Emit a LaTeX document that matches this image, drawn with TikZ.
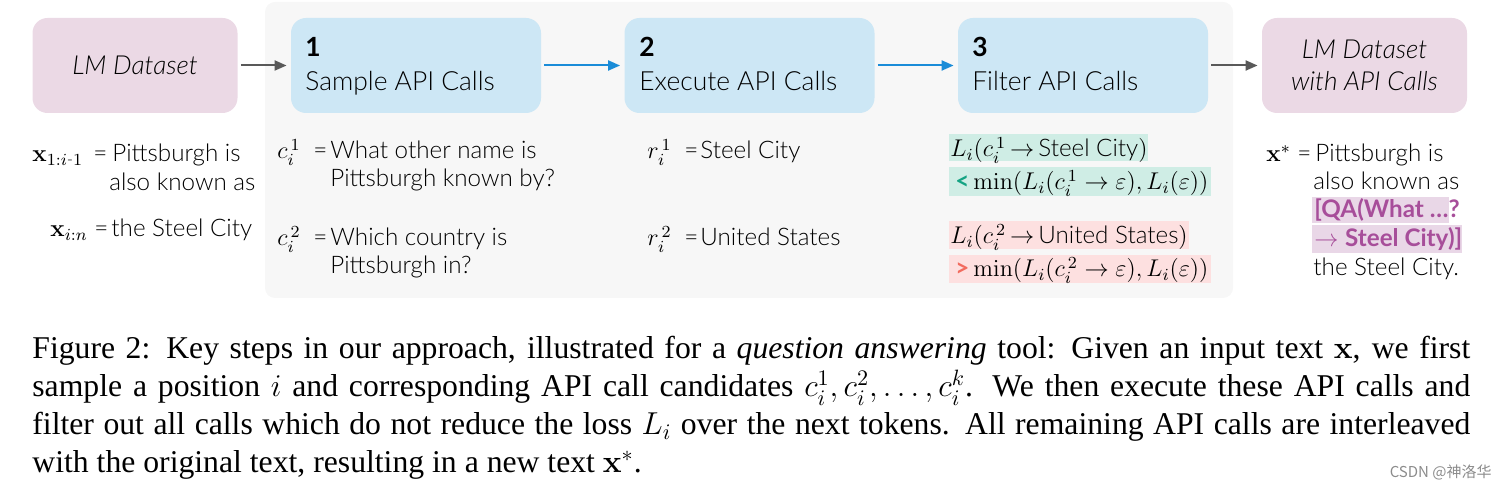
\RequirePackage{fix-cm}
\documentclass[tikz,border=0pt]{standalone}
\usepackage{amsmath}
\usepackage[no-math]{fontspec}
\setmainfont{Liberation Serif}
\IfFontExistsTF{Lato Light}{\newfontfamily\rob{Lato Light}[ItalicFont={Lato Light Italic},BoldFont={Lato Bold}]}{\newfontfamily\rob{Lato}}
\newfontfamily\cjk{Noto Sans CJK SC}
\usetikzlibrary{arrows.meta}
\newcommand{\tightrel}{\thickmuskip=3mu\relax}
\definecolor{pinkbox}{HTML}{EBD9E5}
\definecolor{bluebox}{HTML}{CDE7F5}
\definecolor{panelc}{HTML}{F7F7F7}
\definecolor{greyarrow}{HTML}{595959}
\definecolor{bluearrow}{HTML}{1A8CD8}
\definecolor{greenhl}{HTML}{CFEDE5}
\definecolor{greentxt}{HTML}{14A383}
\definecolor{redhl}{HTML}{FDE0E0}
\definecolor{redtxt}{HTML}{F26B5E}
\definecolor{qahl}{HTML}{E9D7E7}
\definecolor{qatxt}{HTML}{A74E9A}
\begin{document}
\begin{tikzpicture}[x=0.5pt,y=-0.5pt,
  boxbase/.style={rounded corners=7.5pt, minimum height=47.5pt, inner sep=0pt},
  pinkstep/.style={boxbase, fill=pinkbox, minimum width=102.5pt, font=\rob\itshape\fontsize{13.1}{16}\selectfont, align=center},
  bluestep/.style={boxbase, fill=bluebox, minimum width=125pt},
  lbl/.style={inner sep=0pt, anchor=base west, font=\rob\fontsize{13.2}{16}\selectfont},
  lblnum/.style={inner sep=0pt, anchor=base west, font=\rob\bfseries\fontsize{13.2}{16}\selectfont},
  txt/.style={inner sep=0pt, anchor=base west, font=\rob\fontsize{12.1}{14.5}\selectfont},
  formula/.style={txt, font=\rob\fontsize{12.1}{14.5}\selectfont\tightrel},
  garrow/.style={draw=greyarrow, line width=1pt, -{Triangle[length=6pt,width=5pt]}, shorten <=1.5pt, shorten >=2pt},
  barrow/.style={draw=bluearrow, line width=1pt, -{Triangle[length=6pt,width=5pt]}, shorten <=1.5pt, shorten >=2pt},
]
\useasboundingbox (0,0) rectangle (1506,491);
% panel
\node[fill=panelc, rounded corners=5pt, minimum width=484pt, minimum height=148pt, inner sep=0pt] (panel) at (749,150) {};
% boxes
\node[pinkstep] (lm) at (135,65.5) {LM Dataset};
\node[bluestep] (s1) at (416,65.5) {};
\node[bluestep] (s2) at (749.5,65.5) {};
\node[bluestep] (s3) at (1083,65.5) {};
\node[pinkstep] (lm2) at (1364.5,65.5) {LM Dataset\\with API Calls};
\node[lblnum] (n1) at (305,57) {1};
\node[lbl] (t1) at (305,91) {Sample API Calls};
\node[lblnum] (n2) at (639,57) {2};
\node[lbl] (t2) at (639,91) {Execute API Calls};
\node[lblnum] (n3) at (972,57) {3};
\node[lbl] (t3) at (972,91) {Filter API Calls};
% arrows
\draw[garrow] (lm) -- (s1);
\draw[barrow] (s1) -- (s2);
\draw[barrow] (s2) -- (s3);
\draw[garrow] (s3) -- (lm2);
% left column
\node[txt] (xa) at (32,162) {$\mathbf{x}_{1:i\text{-}1}$};
\node[txt] (eqa) at (93,162) {=};
\node[txt] (ta) at (112,162) {Pittsburgh is};
\node[txt] (ta2) at (109,191) {also known as};
\node[txt] (xb) at (50,237) {$\mathbf{x}_{i:n}$};
\node[txt] (eqb) at (94,237) {=};
\node[txt] (tb) at (111,237) {the Steel City};
% sample column
\node[txt] (c1) at (277,159) {$c_i^{\,1}$};
\node[txt] (eqc1) at (313,159) {=};
\node[txt] (tc1) at (330,159) {What other name is};
\node[txt] (tc1b) at (330,187) {Pittsburgh known by?};
\node[txt] (c2) at (277,246) {$c_i^{\,2}$};
\node[txt] (eqc2) at (313,246) {=};
\node[txt] (tc2) at (330,246) {Which country is};
\node[txt] (tc2b) at (330,274) {Pittsburgh in?};
% execute column
\node[txt] (r1) at (647,159) {$r_i^{\,1}$};
\node[txt] (eqr1) at (684,159) {=};
\node[txt] (tr1) at (700,159) {Steel City};
\node[txt] (r2) at (647,246) {$r_i^{\,2}$};
\node[txt] (eqr2) at (684,246) {=};
\node[txt] (tr2) at (700,246) {United States};
% filter column
\fill[greenhl] (949,134) rectangle (1148,161);
\fill[greenhl] (949,167) rectangle (1211,196);
\fill[redhl] (949,221) rectangle (1189,249);
\fill[redhl] (949,255) rectangle (1211,283);
\node[formula] (f1) at (950,157) {$L_i(c_i^{\,1}\rightarrow\mbox{\rob Steel City})$};
\node[txt] (f2) at (955,190) {{\bfseries\color{greentxt}<}\,$\min(L_i(c_i^{\,1}\rightarrow\varepsilon),L_i(\varepsilon))$};
\node[formula] (f3) at (950,244) {$L_i(c_i^{\,2}\rightarrow\mbox{\rob United States})$};
\node[txt] (f4) at (955,277) {{\bfseries\color{redtxt}>}\,$\min(L_i(c_i^{\,2}\rightarrow\varepsilon),L_i(\varepsilon))$};
% right column
\fill[qahl] (1312,197) rectangle (1449,223);
\fill[qahl] (1312,225) rectangle (1462,253);
\node[txt] (xs) at (1266,162) {$\mathbf{x}^{*}$};
\node[txt] (eqs) at (1297,162) {=};
\node[txt] (ts1) at (1315,162) {Pittsburgh is};
\node[txt] (ts2) at (1313,190) {also known as};
\node[txt, text=qatxt] (ts3) at (1314,218) {\bfseries [QA(What …?};
\node[txt, text=qatxt] (ts4) at (1314,247) {$\rightarrow$ \bfseries Steel City)]};
\node[txt] (ts5) at (1313,276) {the Steel City.};
% caption
\node[anchor=north west, text width=719pt, align=justify, inner sep=0pt, font=\fontsize{15.85}{19}\selectfont] (cap) at (32,336)
{Figure 2: Key steps in our approach, illustrated for a \textit{question answering} tool: Given an input text $\mathbf{x}$, we first\linebreak
sample a position $i$ and corresponding API call candidates $c_i^1, c_i^2, \ldots, c_i^k$. We then execute these API calls and\linebreak
filter out all calls which do not reduce the loss $L_i$ over the next tokens. All remaining API calls are interleaved\linebreak
with the original text, resulting in a new text $\mathbf{x}^*$.};
\node[anchor=base east, inner sep=0pt, text=black!45, font=\cjk\fontsize{7.5}{8}\selectfont] (wm) at (1492,478) {CSDN @神洛华};
\end{tikzpicture}
\end{document}
